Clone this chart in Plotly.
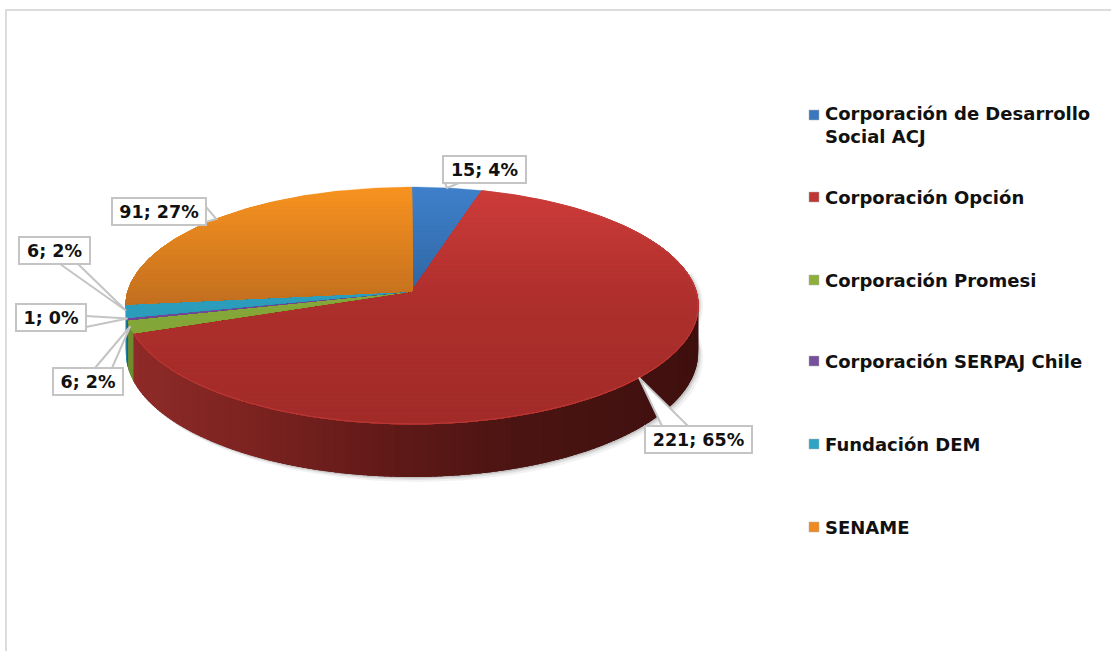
import math
import plotly.graph_objects as go

# ---- data ----
categories = ["Corporación de Desarrollo Social ACJ", "Corporación Opción", "Corporación Promesi",
              "Corporación SERPAJ Chile", "Fundación DEM", "SENAME"]
values = [15, 221, 6, 1, 6, 91]
percent_labels = ["4%", "65%", "2%", "0%", "2%", "27%"]
legend_text = ["Corporación de Desarrollo<br>Social ACJ", "Corporación Opción", "Corporación Promesi",
               "Corporación SERPAJ Chile", "Fundación DEM", "SENAME"]

# ---- style and layout ----
CX, CY, RX, H, K, DEPTH = 412, 291, 284, 116.7, 0.1224, 46.5
FONT = "DejaVu Sans"
legend_colors = ["#3A77BE", "#BE3633", "#8DB03C", "#76509C", "#2FA3C4", "#EE8A22"]
top_stops = [
    ["#3F80CC", "#2E659F", "#2E659F"],
    ["#CD3C39", "#AE2F2D", "#A22B28"],
    ["#8DB03C", "#86A83A", "#7D9E36"],
    ["#7A4F9E", "#74499A", "#6F4595"],
    ["#30A6C6", "#2C9DBC", "#2A96B4"],
    ["#F8931F", "#C4701F", "#B86A1E"],
]
wall_solid = {2: "#6E8C30", 3: "#3A3F7A", 4: "#1F7F9A"}
wall_x = [130, 250, 400, 520, 700]
wall_cols = ["#8F2B28", "#7C2321", "#5E1917", "#4A1412", "#3F100E"]
legend_y = [115, 197, 280, 361, 444, 527]
legend_text_y = [125, 197, 280, 361, 444, 527]
# label boxes: x0, x1, y0, y1
label_boxes = [(443, 526, 156, 183), (645, 752, 426, 453), (53, 123, 368, 395),
               (16, 86, 304, 331), (19, 90, 237, 264), (112, 206, 198, 225)]
# leader wedge bases on the box edge
leader_bases = [[(445, 183), (459, 183)], [(662, 426), (688, 426)], [(95, 368), (112, 368)],
                [(86, 316), (86, 327)], [(60, 264), (78, 264)], [(206, 207), (195, 225)]]


def proj(theta, r=1.0, drop=0.0):
    u, v = r * math.sin(theta), r * math.cos(theta)
    f = 1 / (1 + K * v)
    return CX + RX * u * f, CY - H * v * f + drop * f


def hex_rgb(c):
    return [int(c[i:i + 2], 16) for i in (1, 3, 5)]


def mix(xs, cols, x):
    x = max(xs[0], min(xs[-1], x))
    for i in range(len(xs) - 1):
        if x <= xs[i + 1]:
            t = (x - xs[i]) / (xs[i + 1] - xs[i])
            a, b = hex_rgb(cols[i]), hex_rgb(cols[i + 1])
            return "rgb(%d,%d,%d)" % tuple(round(a[j] + (b[j] - a[j]) * t) for j in range(3))
    return cols[-1]


def clip_below(pts, level):
    out = []
    for i, p in enumerate(pts):
        q = pts[(i + 1) % len(pts)]
        pin, qin = p[1] >= level, q[1] >= level
        if pin:
            out.append(p)
        if pin != qin:
            t = (level - p[1]) / (q[1] - p[1])
            out.append((p[0] + (q[0] - p[0]) * t, level))
    return out


def poly(pts, fill, line=None, width=0):
    xs = [p[0] for p in pts] + [pts[0][0]]
    ys = [p[1] for p in pts] + [pts[0][1]]
    return go.Scatter(x=xs, y=ys, mode="lines", fill="toself", fillcolor=fill,
                      line=dict(color=line or fill, width=width), hoverinfo="skip", showlegend=False)


total = sum(values)
starts, ends, acc = [], [], 0
for val in values:
    starts.append(acc / total * 2 * math.pi)
    acc += val
    ends.append(acc / total * 2 * math.pi)

fig = go.Figure()

# soft shadow of the wall
t_front = [math.radians(a) for a in range(80, 281, 2)]
for off, alpha in ((5, 0.05), (3, 0.08), (1.5, 0.12)):
    outline = [(proj(t)[0] + off, proj(t)[1]) for t in t_front] + \
              [(proj(t, drop=DEPTH)[0] + off, proj(t, drop=DEPTH)[1] + off) for t in reversed(t_front)]
    fig.add_trace(poly(outline, "rgba(0,0,0,%g)" % alpha))

# side wall: painted from the left, each strip overlapping the next so no seams show
STEP = math.radians(1)
t = math.radians(280)
while t > math.radians(80):
    t0 = t - STEP
    mid = (t + t0) / 2
    idx = next(i for i in range(len(values)) if starts[i] <= mid < ends[i])
    px, _ = proj(mid)
    col = wall_solid.get(idx) or mix(wall_x, wall_cols, px)
    if idx == 5:
        col = "#8A4D14"
    far = t0 - STEP * 1.5
    fig.add_trace(poly([proj(t), proj(far), proj(far, drop=DEPTH), proj(t, drop=DEPTH)], col))
    t = t0

# top surface, in bands so the shade follows the height
band_levels = list(range(187, 425, 4))
for i in range(len(values)):
    n = max(2, int((ends[i] - starts[i]) / math.radians(1)))
    arc = [proj(starts[i] + (ends[i] - starts[i]) * j / n) for j in range(n + 1)]
    sector = [(CX, CY)] + arc
    for level in band_levels:
        pts = clip_below(sector, level)
        if len(pts) >= 3:
            fig.add_trace(poly(pts, mix([187, 300, 422], top_stops[i], level + 2), width=0.3))

# light rim on the front of the red slice
n = 240
rim = [proj(starts[1] + (ends[1] - starts[1]) * j / n) for j in range(n + 1)]
fig.add_trace(go.Scatter(x=[p[0] for p in rim], y=[p[1] for p in rim], mode="lines",
                         line=dict(color="rgba(200,64,60,0.7)", width=1), hoverinfo="skip", showlegend=False))

# leader wedges from each slice's mid angle
for i in range(len(values)):
    tip = proj((starts[i] + ends[i]) / 2)
    a, b = leader_bases[i]
    fig.add_trace(go.Scatter(x=[a[0], tip[0], b[0]], y=[a[1], tip[1], b[1]], mode="lines", fill="toself",
                             fillcolor="white", line=dict(color="#C4C4C4", width=2),
                             hoverinfo="skip", showlegend=False))

# legend swatches
fig.add_trace(go.Scatter(x=[814] * 6, y=legend_y, mode="markers",
                         marker=dict(symbol="square", size=10, color=legend_colors,
                                     line=dict(color="#B0B0B0", width=0.5)),
                         hoverinfo="skip", showlegend=False))

annotations = []
for i in range(len(values)):
    x0, x1, y0, y1 = label_boxes[i]
    annotations.append(dict(x=(x0 + x1) / 2, y=(y0 + y1) / 2, xref="x", yref="y", showarrow=False,
                            text="<b>%d; %s</b>" % (values[i], percent_labels[i]),
                            width=x1 - x0 - 2, height=y1 - y0 - 2, borderpad=0,
                            bgcolor="white", bordercolor="#C4C4C4", borderwidth=2,
                            font=dict(family=FONT, size=17.5, color="#111111")))
    annotations.append(dict(x=823, y=legend_text_y[i], xref="x", yref="y", showarrow=False,
                            xanchor="left", yanchor="middle", align="left",
                            text="<b>%s</b>" % legend_text[i],
                            font=dict(family=FONT, size=18, color="#111111")))

fig.update_layout(
    width=1111, height=651, margin=dict(l=0, r=0, t=0, b=0),
    paper_bgcolor="white", plot_bgcolor="white", showlegend=False,
    xaxis=dict(range=[0, 1111], visible=False, fixedrange=True),
    yaxis=dict(range=[651, 0], visible=False, fixedrange=True),
    annotations=annotations,
    shapes=[dict(type="line", xref="x", yref="y", x0=6, x1=6, y0=10, y1=651, line=dict(color="#DCDCDC", width=2)),
            dict(type="line", xref="x", yref="y", x0=5, x1=1111, y0=10, y1=10, line=dict(color="#DCDCDC", width=2))],
)
fig.write_html("out.html", config=dict(displayModeBar=False),
               post_script="document.body.style.margin='0';document.body.style.overflow='hidden';")
